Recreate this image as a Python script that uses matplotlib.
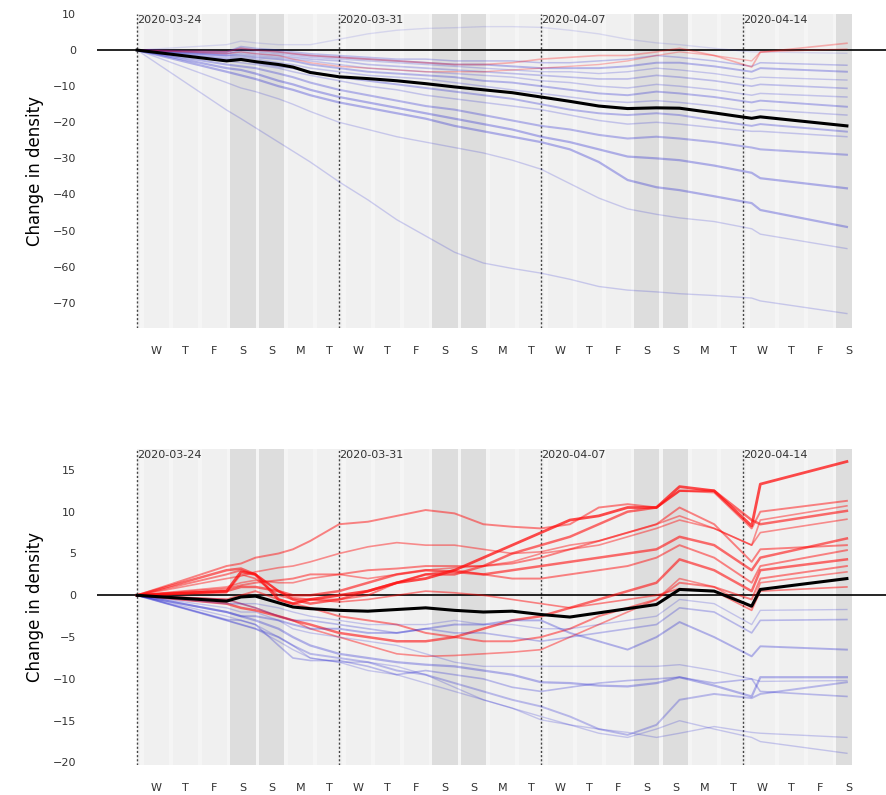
import matplotlib
matplotlib.use("Agg")
import matplotlib.pyplot as plt

# days after 2020-03-24 00:00 at which every series is sampled
X_DAYS = [0, 3.1, 3.6, 4.1, 4.9, 5.4, 6, 7, 8, 9, 10, 11, 12, 13, 14, 15, 16, 17,
          18, 18.8, 20, 21.3, 21.6, 24.6]

WEEK_DATES = ["2020-03-24", "2020-03-31", "2020-04-07", "2020-04-14"]
DAY_LETTERS = ["W", "T", "F", "S", "S", "M", "T"] * 3 + ["W", "T", "F", "S"]

# ---- top panel ----
TOP_MEAN = [0, -3.0, -2.6, -3.2, -4.0, -4.7, -6.2, -7.4, -7.9, -8.5, -9.3, -10.2, -11.0,
            -11.8, -13.0, -14.2, -15.5, -16.2, -16.0, -16.1, -17.4, -18.9, -18.5, -21.0]
TOP_SERIES = [
    [0, -16.6, -19, -21.5, -25.5, -28, -31, -36.5, -41.5, -47, -51.5, -56, -59, -60.5, -61.8, -63.5, -65.5, -66.5, -67, -67.5, -68, -68.7, -69.5, -73],
    [0, -9, -10.5, -11.5, -13.5, -15, -17, -20, -22, -24, -25.5, -27, -28.5, -30.5, -33, -37, -41, -44, -45.5, -46.5, -47.5, -49.5, -51, -55],
    [0, -6, -7, -8, -10, -11, -12.5, -14.5, -16, -17.5, -19, -21, -22.5, -24, -25.5, -27.5, -31, -36, -38, -38.8, -40.5, -42.4, -44.3, -49],
    [0, -5, -5.5, -6.5, -8.5, -9.5, -11, -13, -14.5, -16, -17.5, -19, -20.5, -22, -24, -25.5, -27.5, -29.5, -30, -30.5, -32, -34, -35.5, -38.3],
    [0, -4, -4.5, -5, -6.5, -7.5, -9, -11, -12.5, -14, -15.5, -16.5, -18, -19.5, -21, -22, -23.5, -24.5, -24, -24.5, -25.5, -27, -27.5, -29],
    [0, -3, -3.5, -4, -5, -6, -7, -8.5, -10, -11, -12.5, -13.5, -14.5, -15.5, -16.5, -18, -19.5, -20.5, -20, -20.5, -21.5, -22.5, -22.5, -24],
    [0, -2.5, -2.5, -3.5, -4.5, -5, -6, -7.5, -8.5, -9.5, -10.5, -11.5, -12.5, -13.5, -15, -16.5, -17.5, -18, -17.5, -18, -19.5, -21, -20.5, -22.6],
    [0, -2, -2, -2.5, -3.5, -4, -5, -6, -7, -7.5, -8, -9, -10, -11, -12, -13, -14, -14.5, -14, -14.5, -15.5, -17, -16.5, -18],
    [0, -1.5, -1.5, -2, -2.5, -3, -4, -5, -6, -6.5, -7, -7.5, -8.5, -9, -10, -11, -12, -12.5, -11.5, -12, -13, -14.5, -14, -15.7],
    [0, -1.5, -1, -1.5, -2, -2.5, -3, -4, -5, -5.5, -6, -6.5, -7, -7.5, -8.5, -9, -10, -10.5, -9.5, -10, -11, -12.5, -12, -13],
    [0, -1, -0.5, -1, -1.5, -2, -2.5, -3, -4, -4.5, -5, -5.5, -6, -6.5, -7, -7.5, -8, -8, -7, -7.5, -8.5, -10, -9.5, -10.6],
    [0, -1, 0, -0.5, -1, -1.5, -2, -2.5, -3, -3.5, -4, -4.5, -5, -5.5, -6, -6, -6.5, -6, -5, -5.5, -6.5, -8, -7.5, -8.3],
    [0, -0.5, 0.5, 0, -0.5, -1, -1.5, -2, -2.5, -3, -3.5, -4, -4, -4.5, -5, -5, -5, -4.5, -3.5, -3.5, -4.5, -6, -5, -6],
    [0, -0.5, 1, 0.5, 0, -0.5, -1, -1.5, -2, -2.5, -2.5, -3, -3, -3, -3.5, -3.5, -3, -2.5, -1.5, -2, -3, -4.5, -3.5, -4.2],
    [0, 1.5, 2.5, 2, 1.5, 1.5, 1.5, 3, 4.5, 5.5, 6, 6.2, 6.5, 6.5, 6.3, 5.5, 4.5, 3, 2, 1.5, 0.5, -0.5, -0.5, -0.9],
    [0, -0.5, 0.5, 0, -0.5, -1, -1.5, -2, -2.5, -3, -3.5, -4, -4, -3.5, -2.5, -2, -1.5, -1.5, -0.5, 0.5, -1.5, -4.7, -0.6, 1.9],
    [0, -1, -0.5, -1, -1.5, -2.5, -3.5, -4.5, -5, -5.5, -6, -6, -6, -5.5, -5, -4.5, -4, -3, -1.5, -0.5, -1.5, -3, -0.5, 0.3],
]
TOP_LW = [1.0, 1.0, 1.6, 1.6, 1.5, 1.1, 1.4, 1.1, 1.4, 1.1, 1.2, 1.0, 1.4, 1.1, 1.0, 1.2, 1.0]
TOP_ALPHA = [0.2, 0.2, 0.33, 0.33, 0.3, 0.22, 0.3, 0.22, 0.3, 0.22, 0.25, 0.22, 0.3, 0.25, 0.13, 0.3, 0.28]

# ---- bottom panel ----
BOT_MEAN = [0, -0.7, -0.2, -0.1, -0.9, -1.4, -1.6, -1.8, -1.9, -1.7, -1.5, -1.8, -2.0,
            -1.9, -2.3, -2.6, -2.1, -1.6, -1.1, 0.7, 0.5, -1.3, 0.7, 2.0]
BOT_SERIES = [
    [0, 0.5, 2.8, 2.5, -0.5, -1, -0.5, 0, 0.5, 1.5, 2, 3, 4.5, 6, 7.5, 9, 9.5, 10.5, 10.5, 13, 12.5, 8.3, 13.3, 16],
    [0, 3.5, 3.8, 4.5, 5, 5.5, 6.5, 8.5, 8.8, 9.5, 10.2, 9.8, 8.5, 8.2, 8, 8.5, 10.5, 10.9, 10.5, 12.5, 12.3, 8, 10, 11.3],
    [0, 2, 2.3, 2.8, 3.3, 3.5, 4, 5, 5.8, 6.3, 6, 6, 5.5, 5, 5.2, 6, 6.5, 7.5, 8.5, 9.5, 8, 6, 9, 10.7],
    [0, 3, 3.2, 2.5, 0.5, -0.5, -1, -0.5, 0.5, 1.5, 2.5, 2.5, 3.5, 5, 6, 7, 8.5, 10, 10.5, 12.5, 12.5, 9, 8.5, 10.1],
    [0, 1, 1.5, 1.8, 1.5, 1.5, 2, 2.5, 2, 2.5, 3, 3.3, 3.5, 4, 5, 5.5, 6, 7, 8, 9, 8, 6, 7.5, 9.1],
    [0, 0.5, 1, 1, 0.5, 0, 0, 0.5, 1.5, 2.5, 3, 2.8, 2.5, 3, 3.5, 4, 4.5, 5, 5.5, 7, 6, 3, 4.5, 6.8],
    [0, 2.5, 3, 2.5, 0.5, -0.3, -0.5, -0.5, 0, 1.5, 2.5, 3, 2.5, 2, 2, 2.5, 3, 3.5, 4.5, 6, 4.5, 1.5, 3.5, 5.4],
    [0, -1, -1.5, -1.8, -2.5, -3, -3.5, -4.5, -5, -5.5, -5.5, -5, -4, -3, -2.5, -1.5, -0.5, 0.5, 1.5, 4.3, 3, 0.5, 3, 4.3],
    [0, -0.5, 0, 0.5, -0.5, -1, -1.5, -2.5, -3, -3.5, -4.5, -5, -5.5, -5.5, -5, -4, -2.5, -1.5, -0.5, 1.5, 1, -0.5, 2, 3.5],
    [0, -0.5, -1, -1.5, -2.5, -3, -4, -5, -6, -7, -7.3, -7.2, -7, -6.8, -6.5, -5, -3.5, -2, -0.5, 2, 1, -1.5, 1.5, 2.8],
    [0, 0.3, 2.5, 2, 0, -0.5, -0.5, -0.8, -0.5, 0, 0.5, 0.3, 0, -0.5, -1, -1.5, -1, -0.5, 0, 0.8, 0.5, -1.8, 0.5, 1],
    [0, 0.8, 1.2, 1.5, 1.8, 2, 2.5, 2.5, 3, 3.2, 3.5, 3.5, 3.5, 3.8, 4.5, 5.5, 6.5, 7.5, 8.5, 10.5, 8.5, 4, 5.5, 6],
    [0, -0.5, -1, -1, -1.5, -2, -2.5, -3, -3.5, -3.5, -3.5, -3, -3.5, -3.5, -4, -4, -3.5, -3, -2.5, -0.5, -1, -3.5, -1.8, -1.7],
    [0, -1, -1, -1.5, -2.5, -3, -3, -3.5, -4, -4.5, -4, -4.5, -4.5, -5, -5.5, -5, -4.5, -4, -3.5, -1.5, -2, -4.5, -3, -2.9],
    [0, -2, -2.5, -2.5, -3, -3.5, -4, -4, -4.5, -4.5, -4, -3.5, -3.5, -3, -3, -4.5, -5.5, -6.5, -5, -3.2, -5, -7.3, -6.1, -6.5],
    [0, -2, -2.5, -3, -4, -5, -6, -7, -7.5, -8, -8.3, -8.5, -9, -9.5, -10.4, -10.5, -10.8, -10.9, -10.5, -9.8, -10.8, -12.1, -9.8, -9.8],
    [0, -3, -3.5, -4, -5, -6, -7, -7.5, -8, -9, -9.5, -10.5, -11.5, -12.5, -13.3, -14.5, -16, -16.7, -15.5, -12.5, -11.8, -12.3, -11.8, -10.4],
    [0, -2.5, -3, -3.5, -5, -6, -7.5, -8, -9, -9.5, -10.5, -11.5, -12.5, -13.5, -14.9, -15.5, -16, -16.4, -17, -16.5, -15.7, -16.4, -16.5, -17],
    [0, -3, -3.5, -4, -5.5, -6.5, -7.5, -8, -8, -8.5, -9.5, -11, -12.5, -13.5, -14.5, -15.5, -16.5, -17, -16, -15, -16, -17, -17.5, -18.9],
    [0, -2.9, -3, -3.5, -6, -7.5, -7.8, -7.8, -8.5, -9.5, -9, -9.5, -10, -11, -11.5, -11, -10.5, -10.2, -10, -9.8, -10.5, -10, -11.5, -12.1],
    [0, -1.5, -2, -2, -3, -4, -4.5, -5, -5.5, -6, -7, -8, -8.5, -8.5, -8.5, -8.5, -8.5, -8.5, -8.5, -8.3, -9, -10, -10.3, -10.2],
]
BOT_LW = [2.0, 1.4, 1.2, 1.8, 1.2, 1.8, 1.4, 1.8, 1.4, 1.2, 1.2, 1.4,
          1.0, 1.2, 1.4, 1.6, 1.4, 1.0, 1.0, 1.2, 1.0]
BOT_ALPHA = [0.75, 0.5, 0.45, 0.6, 0.45, 0.6, 0.5, 0.6, 0.5, 0.45, 0.5, 0.5,
             0.22, 0.28, 0.32, 0.32, 0.28, 0.22, 0.22, 0.28, 0.22]

# geometry of the day bands (days relative to 2020-03-24 00:00)
DAY_SHIFT = -0.33
BAND_HALF = 0.435
X_END = 24.77


def draw_panel(ax, series, lws, alphas, mean, ylim, yticks):
    ax.set_xlim(-1.39, 25.99)
    ax.set_ylim(*ylim)
    # light background under all days, then one band per day
    ax.axvspan(0, X_END, color="#f5f5f5", lw=0, zorder=0)
    for n in range(26):
        c = n + DAY_SHIFT
        lo, hi = max(0, c - BAND_HALF), min(X_END, c + BAND_HALF)
        weekend = n % 7 in (4, 5)
        ax.axvspan(lo, hi, color="#dddddd" if weekend else "#f0f0f0", lw=0, zorder=0)
    for k, lab in enumerate(WEEK_DATES):
        ax.axvline(7 * k, color="#444444", ls=(0, (1.5, 1.5)), lw=1.0, zorder=1)
        ax.text(7 * k, ylim[1] - 0.004 * (ylim[1] - ylim[0]), lab, fontsize=8,
                ha="left", va="top", color="#333333", zorder=6)
    ax.axhline(0, color="black", lw=1.2, zorder=2)
    for ys, lw, a in zip(series, lws, alphas):
        col = "#ff1010" if ys[-1] > 0 else "#2222d0"
        ax.plot(X_DAYS, ys, color=col, lw=lw, alpha=a, zorder=3)
    ax.plot(X_DAYS, mean, color="black", lw=2.2, zorder=5)
    ax.set_yticks(yticks)
    ax.set_xticks([n + DAY_SHIFT for n in range(1, 26)])
    ax.set_xticklabels(DAY_LETTERS)
    ax.tick_params(axis="both", length=0, labelsize=8, labelcolor="#333333")
    ax.tick_params(axis="y", pad=15)
    ax.tick_params(axis="x", pad=13)
    for sp in ax.spines.values():
        sp.set_visible(False)
    ax.set_facecolor("white")
    ax.set_ylabel("Change in density", fontsize=12, labelpad=6)


fig = plt.figure(figsize=(8.87, 7.95), dpi=100)
ax_top = fig.add_axes([97 / 887, 1 - 328 / 795, 790 / 887, 314 / 795])
ax_bot = fig.add_axes([97 / 887, 1 - 765 / 795, 790 / 887, 316 / 795])

draw_panel(ax_top, TOP_SERIES, TOP_LW, TOP_ALPHA, TOP_MEAN, (-77, 10),
           list(range(-70, 11, 10)))
draw_panel(ax_bot, BOT_SERIES, BOT_LW, BOT_ALPHA, BOT_MEAN, (-20.3, 17.5),
           list(range(-20, 16, 5)))

fig.savefig("out.png", dpi=100)
